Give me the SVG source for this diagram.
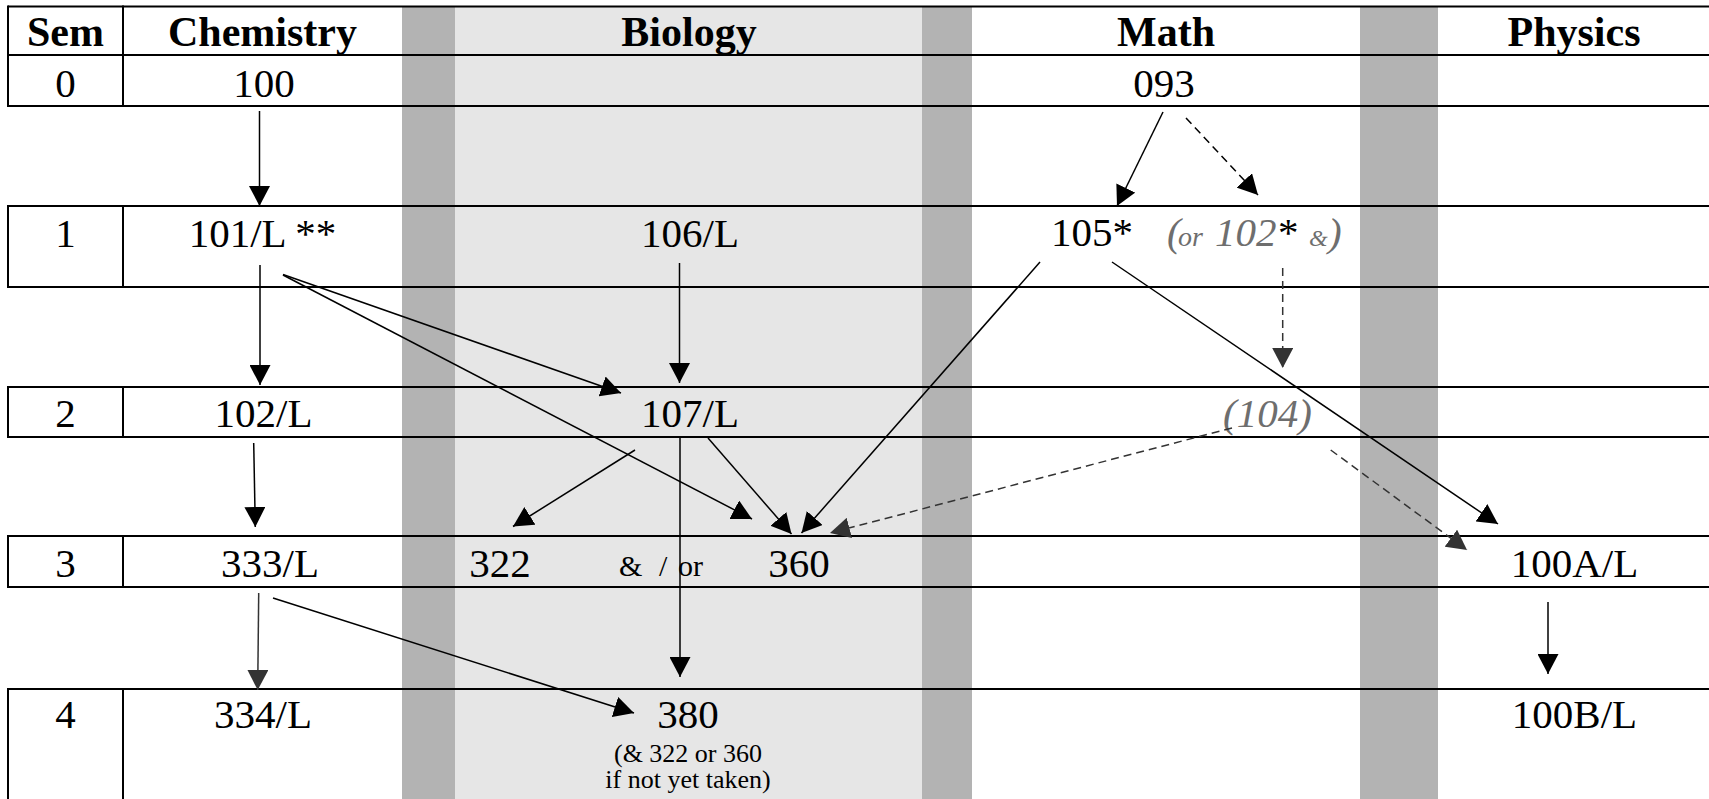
<svg xmlns="http://www.w3.org/2000/svg" width="1709" height="799" viewBox="0 0 1709 799">
<style>
text { font-family: "Liberation Serif", "Times New Roman", serif; fill: #000; }
.h { font-size: 42px; font-weight: bold; text-anchor: middle; }
.t { font-size: 41px; text-anchor: middle; }
.s { font-size: 26px; text-anchor: middle; }
.g { fill: #6e6e6e; font-style: italic; }
.grid { stroke: #000; stroke-width: 2; fill: none; }
.c { stroke: #000; stroke-width: 1.5; fill: none; marker-end: url(#ah); }
.cd { stroke: #000; stroke-width: 1.5; stroke-dasharray: 8 5; fill: none; marker-end: url(#ah); }
.cg { stroke: #333; stroke-width: 1.5; fill: none; marker-end: url(#ahg); }
.cgd { stroke: #333; stroke-width: 1.5; stroke-dasharray: 8 5; fill: none; marker-end: url(#ahg); }
</style>
<defs>
<marker id="ah" markerUnits="userSpaceOnUse" viewBox="0 0 20 21" markerWidth="20" markerHeight="21" refX="20" refY="10.5" orient="auto"><path d="M0,0 L20,10.5 L0,21 z" fill="#000"/></marker>
<marker id="ahg" markerUnits="userSpaceOnUse" viewBox="0 0 20 21" markerWidth="20" markerHeight="21" refX="20" refY="10.5" orient="auto"><path d="M0,0 L20,10.5 L0,21 z" fill="#333"/></marker>
</defs>
<rect x="0" y="0" width="1709" height="799" fill="#fff"/>
<g id="stripes">
<rect x="402" y="6.5" width="53" height="793" fill="#b3b3b3"/>
<rect x="455" y="6.5" width="467" height="793" fill="#e6e6e6"/>
<rect x="922" y="6.5" width="50" height="793" fill="#b3b3b3"/>
<rect x="1360" y="6.5" width="78" height="793" fill="#b3b3b3"/>
</g>
<g id="grid" class="grid">
<path d="M8,6.5 H1709 M8,55 H1709 M8,106 H1709 M8,206 H1709 M8,287 H1709 M8,387 H1709 M8,437 H1709 M8,536 H1709 M8,587 H1709 M8,689 H1709"/>
<path d="M8,5.5 V107 M123,5.5 V107 M8,205 V288 M123,205 V288 M8,386 V438 M123,386 V438 M8,535 V588 M123,535 V588 M8,688 V799 M123,688 V799"/>
</g>
<g id="headers">
<g id="h-sem"><text class="h" x="65.5" y="46">Sem</text></g>
<g id="h-chem"><text class="h" x="262.5" y="46">Chemistry</text></g>
<g id="h-bio"><text class="h" x="689" y="46">Biology</text></g>
<g id="h-math"><text class="h" x="1166" y="46">Math</text></g>
<g id="h-phys"><text class="h" x="1574" y="46">Physics</text></g>
</g>
<g id="semesters">
<g id="sem0"><text class="t" x="65.5" y="97">0</text></g>
<g id="sem1"><text class="t" x="65.5" y="247">1</text></g>
<g id="sem2"><text class="t" x="65.5" y="427">2</text></g>
<g id="sem3"><text class="t" x="65.5" y="577">3</text></g>
<g id="sem4"><text class="t" x="65.5" y="728">4</text></g>
</g>
<g id="chem100"><text class="t" x="264" y="97">100</text></g>
<g id="math093"><text class="t" x="1164" y="97">093</text></g>
<g id="chem101"><text class="t" x="262.5" y="247">101/L **</text></g>
<g id="bio106"><text class="t" x="690" y="247">106/L</text></g>
<g id="math105"><text class="t" x="1092" y="246">105*</text></g>
<g id="math102"><text y="246" style="font-size:41px"><tspan x="1167" class="g">(</tspan><tspan x="1178" class="g" style="font-size:28px">or</tspan><tspan x="1215" class="g">102</tspan><tspan x="1278">*</tspan><tspan x="1309" class="g" style="font-size:24px">&amp;</tspan><tspan x="1328" class="g">)</tspan></text></g>
<g id="chem102"><text class="t" x="263.5" y="427">102/L</text></g>
<g id="bio107"><text class="t" x="690" y="427">107/L</text></g>
<g id="math104"><text class="t g" x="1267.5" y="427">(104)</text></g>
<g id="chem333"><text class="t" x="270" y="577">333/L</text></g>
<g id="bio322"><text class="t" x="500" y="577">322</text></g>
<g id="andor"><text y="576" style="font-size:30px"><tspan x="619">&amp;</tspan><tspan x="659">/</tspan><tspan x="678">or</tspan></text></g>
<g id="bio360"><text class="t" x="799" y="577">360</text></g>
<g id="phys100A"><text class="t" x="1574.5" y="577">100A/L</text></g>
<g id="chem334"><text class="t" x="263" y="728">334/L</text></g>
<g id="bio380"><text class="t" x="688" y="728">380</text><text class="s" x="688" y="762">(&amp; 322 or 360</text><text class="s" x="688" y="788">if not yet taken)</text></g>
<g id="phys100B"><text class="t" x="1574.5" y="728">100B/L</text></g>
<g id="connectors">
<path class="c" d="M259.5,111 L259.5,206"/>
<path class="c" d="M260,265 L260,385"/>
<path class="c" d="M283,274.5 L621,393"/>
<path class="c" d="M283,275 L752,519"/>
<path class="c" d="M679.5,263 L679.5,383"/>
<path class="c" d="M635,450 L513,526.5"/>
<path class="c" d="M680,438 L680,677"/>
<path class="c" d="M708,438 L791.5,534"/>
<path class="c" d="M1040,262 L801.5,533"/>
<path class="cgd" d="M1232,428 L830,533"/>
<path class="c" d="M1112,262 L1498,524"/>
<path class="cgd" d="M1282.7,268 L1282.7,368"/>
<path class="cgd" d="M1330.7,450 L1467,550"/>
<path class="c" d="M1163,112 L1117,206"/>
<path class="cd" d="M1186,118 L1258,195"/>
<path class="c" d="M253.7,443 L255.3,527"/>
<path class="cg" d="M258.7,593 L257.7,690"/>
<path class="c" d="M273,598 L634,713"/>
<path class="c" d="M1548,602 L1548,674"/>
</g>
</svg>
